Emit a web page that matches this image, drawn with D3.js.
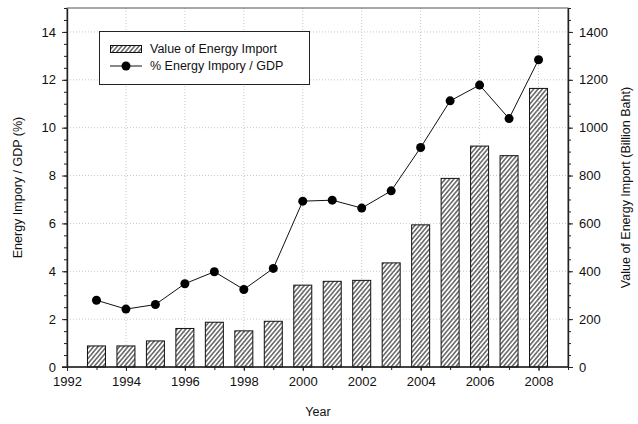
<!DOCTYPE html>
<meta charset="utf-8">
<style>
body { margin: 0; background: #fff; }
text { font-family: "Liberation Sans", Arial, sans-serif; font-size: 12.5px; fill: #111; }
.grid line { stroke: #c8c8c8; stroke-dasharray: 1,2; }
.axis path, .axis line { stroke: #222; }
</style>
<svg width="638" height="424"></svg>
<script src="https://d3js.org/d3.v7.min.js"></script>
<script>

var years = [1993, 1994, 1995, 1996, 1997, 1998, 1999, 2000, 2001, 2002, 2003, 2004, 2005, 2006, 2007, 2008];
var importValue = [88, 88, 109, 161, 187, 151, 191, 342, 358, 362, 435, 594, 788, 923, 883, 1164];
var importPctGdp = [2.79, 2.42, 2.61, 3.48, 3.98, 3.24, 4.12, 6.93, 6.97, 6.64, 7.36, 9.17, 11.12, 11.78, 10.38, 12.84];
var xTicks = [1992, 1994, 1996, 1998, 2000, 2002, 2004, 2006, 2008];
var leftTicks = [0, 2, 4, 6, 8, 10, 12, 14];
var rightTicks = [0, 200, 400, 600, 800, 1000, 1200, 1400];

var svg = d3.select("svg"),
    pL = 67, pR = 568, pT = 8, pB = 367;

var x = d3.scaleLinear().domain([1992, 2009]).range([pL, pR]);
var yL = d3.scaleLinear().domain([0, 15]).range([pB, pT]);
var yR = d3.scaleLinear().domain([0, 1500]).range([pB, pT]);

// hatch
var defs = svg.append("defs");
defs.append("pattern")
    .attr("id", "hatch")
    .attr("patternUnits", "userSpaceOnUse")
    .attr("width", 3.3).attr("height", 4)
    .attr("patternTransform", "rotate(40)")
  .append("line")
    .attr("x1", 0.8).attr("y1", 0).attr("x2", 0.8).attr("y2", 4)
    .attr("stroke", "#111").attr("stroke-width", 1);

// grid
var grid = svg.append("g").attr("class", "grid");
grid.selectAll(".gx").data(xTicks.slice(1)).enter().append("line")
    .attr("x1", d => x(d)).attr("x2", d => x(d))
    .attr("y1", pT).attr("y2", pB);
grid.selectAll(".gy").data(leftTicks.slice(1)).enter().append("line")
    .attr("x1", pL).attr("x2", pR)
    .attr("y1", d => yL(d)).attr("y2", d => yL(d));

// frame
svg.append("rect")
    .attr("x", pL).attr("y", pT)
    .attr("width", pR - pL).attr("height", pB - pT)
    .attr("fill", "none").attr("stroke", "#555");

// bars
var bw = 18;
svg.selectAll(".bar").data(years).enter().append("rect")
    .attr("x", d => x(d) - bw / 2)
    .attr("y", (d, i) => yR(importValue[i]))
    .attr("width", bw)
    .attr("height", (d, i) => pB - yR(importValue[i]))
    .attr("fill", "url(#hatch)")
    .attr("stroke", "#111").attr("stroke-width", 1);

// line
var line = d3.line().x((d, i) => x(years[i])).y(d => yL(d));
svg.append("path").datum(importPctGdp)
    .attr("d", line).attr("fill", "none").attr("stroke", "#111").attr("stroke-width", 1);
svg.selectAll(".dot").data(importPctGdp).enter().append("circle")
    .attr("cx", (d, i) => x(years[i])).attr("cy", d => yL(d))
    .attr("r", 4.5).attr("fill", "#000");

// axes
var xMinor = d3.range(1992, 2010);
svg.append("g").attr("class", "axis")
    .attr("transform", "translate(0," + pB + ")")
    .call(d3.axisBottom(x).tickValues(xMinor).tickSize(3).tickFormat(""))
    .call(g => g.select(".domain").remove());
svg.append("g").attr("class", "axis")
    .attr("transform", "translate(0," + pB + ")")
    .call(d3.axisBottom(x).tickValues(xTicks).tickSize(4).tickPadding(6).tickFormat(d3.format("d")))
    .call(g => g.select(".domain").attr("d", "M" + (pL - 5) + ",0H" + pR).attr("stroke-width", 1.6));

svg.append("g").attr("class", "axis")
    .attr("transform", "translate(" + pL + ",0)")
    .call(d3.axisLeft(yL).tickValues(d3.range(0, 15.01, 0.5)).tickSize(3).tickFormat(""))
    .call(g => g.select(".domain").remove());
svg.append("g").attr("class", "axis")
    .attr("transform", "translate(" + pL + ",0)")
    .call(d3.axisLeft(yL).tickValues(leftTicks).tickSize(5).tickPadding(6).tickSizeOuter(0))
    .call(g => g.select(".domain").attr("stroke-width", 1.4));

svg.append("g").attr("class", "axis")
    .attr("transform", "translate(" + pR + ",0)")
    .call(d3.axisRight(yR).tickValues(d3.range(0, 1501, 50)).tickSize(3).tickFormat(""))
    .call(g => g.select(".domain").remove());
svg.append("g").attr("class", "axis")
    .attr("transform", "translate(" + pR + ",0)")
    .call(d3.axisRight(yR).tickValues(rightTicks).tickSize(5).tickPadding(6).tickSizeOuter(0).tickFormat(d3.format("d")))
    .call(g => g.select(".domain").attr("stroke-width", 1.4));

svg.selectAll(".axis text").style("font-size", "13px");

// axis titles
svg.append("text").attr("x", 318).attr("y", 416).attr("text-anchor", "middle").text("Year");
svg.append("text")
    .attr("transform", "translate(22," + (pT + pB) / 2 + ") rotate(-90)")
    .attr("text-anchor", "middle").text("Energy Impory / GDP (%)");
svg.append("text")
    .attr("transform", "translate(630," + (pT + pB) / 2 + ") rotate(-90)")
    .attr("text-anchor", "middle").text("Value of Energy Import (Billion Baht)");

// legend
var lg = svg.append("g");
lg.append("rect").attr("x", 99.5).attr("y", 31.5).attr("width", 210).attr("height", 53)
    .attr("fill", "#fff").attr("stroke", "#222");
lg.append("rect").attr("x", 110.5).attr("y", 45.5).attr("width", 31).attr("height", 7)
    .attr("fill", "url(#hatch)").attr("stroke", "#111");
lg.append("text").attr("x", 150).attr("y", 53).text("Value of Energy Import");
lg.append("line").attr("x1", 110).attr("x2", 142).attr("y1", 66).attr("y2", 66).attr("stroke", "#111");
lg.append("circle").attr("cx", 126).attr("cy", 66).attr("r", 4.5).attr("fill", "#000");
lg.append("text").attr("x", 150).attr("y", 70).text("% Energy Impory / GDP");

</script>
